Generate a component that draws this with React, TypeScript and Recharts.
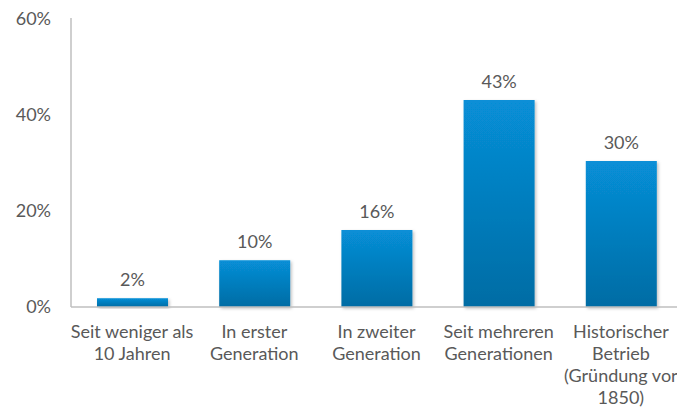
import React from "react";
import { BarChart, Bar, XAxis, YAxis, LabelList } from "recharts";

const categories = [
  "Seit weniger als 10 Jahren",
  "In erster Generation",
  "In zweiter Generation",
  "Seit mehreren Generationen",
  "Historischer Betrieb (Gründung vor 1850)",
];
const shares = [1.8, 9.7, 16, 43, 30.3];
const yTicks = [0, 20, 40, 60];

const data = categories.map((name, i) => ({ name, value: shares[i] }));

const FONT = "Lato, 'Open Sans', sans-serif";
const TEXT = "#595959";

function wrap(text: string, max = 16): string[] {
  const words = text.split(" ");
  const lines: string[] = [];
  let cur = "";
  for (const w of words) {
    const next = cur ? cur + " " + w : w;
    if (next.length > max && cur) {
      lines.push(cur);
      cur = w;
    } else cur = next;
  }
  if (cur) lines.push(cur);
  return lines;
}

const XTick = (props: any) => {
  const { x, y, payload } = props;
  const lines = wrap(payload.value);
  return (
    <text x={x} y={y} textAnchor="middle" fill={TEXT} fontFamily={FONT} fontSize={18}>
      {lines.map((l, i) => (
        <tspan key={i} x={x} dy={i === 0 ? 23 : 22}>
          {l}
        </tspan>
      ))}
    </text>
  );
};

export default function App() {
  return (
    <BarChart
      width={677}
      height={400}
      data={data}
      margin={{ top: 10, right: 3, left: 0, bottom: 0 }}
    >
      <defs>
        <linearGradient id="barGrad" x1="0" y1="0" x2="0" y2="1">
          <stop offset="0%" stopColor="#078fd7" />
          <stop offset="100%" stopColor="#036ca4" />
        </linearGradient>
        <filter id="shadow" x="-10%" y="-10%" width="130%" height="130%">
          <feDropShadow dx="1.5" dy="1.5" stdDeviation="1.5" floodColor="#000" floodOpacity="0.25" />
        </filter>
      </defs>
      <XAxis
        dataKey="name"
        height={101}
        interval={0}
        tickLine={false}
        axisLine={{ stroke: "#bfbfbf", strokeWidth: 1.5 }}
        tick={<XTick />}
      />
      <YAxis
        domain={[0, 60]}
        ticks={yTicks}
        width={63}
        tickLine={false}
        tickSize={0}
        tickMargin={20}
        axisLine={{ stroke: "#bfbfbf", strokeWidth: 1.5 }}
        tickFormatter={(v: number) => `${v}%`}
        tick={{ fill: TEXT, fontFamily: FONT, fontSize: 18 }}
      />
      <Bar
        dataKey="value"
        barSize={71}
        fill="url(#barGrad)"
        filter="url(#shadow)"
        isAnimationActive={false}
      >
        <LabelList
          dataKey="value"
          position="top"
          offset={12}
          formatter={(v: any) => `${Math.round(Number(v))}%`}
          style={{ fill: TEXT, fontFamily: FONT, fontSize: 18 }}
        />
      </Bar>
    </BarChart>
  );
}
